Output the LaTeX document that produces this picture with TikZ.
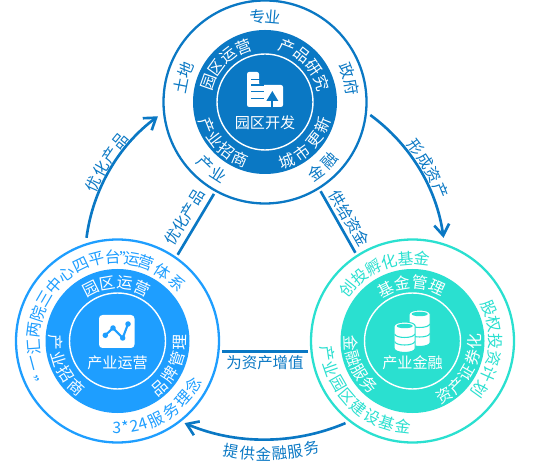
\documentclass[tikz,border=0pt]{standalone}
\usepackage{fontspec}
\setmainfont{Noto Sans CJK SC}
\definecolor{kfblue}{RGB}{10,120,196}
\definecolor{yyblue}{RGB}{30,158,255}
\definecolor{jrteal}{RGB}{42,224,208}
\usetikzlibrary{arrows.meta,positioning,calc}

% one glyph per node, turned to follow a circle round #2
\newcommand{\curvetext}[7]{%
  \foreach \ch [count=\n from 0] in {#7}{%
    \pgfmathsetmacro{\ang}{#4+\n*(#5)}
    \pgfmathsetmacro{\rot}{\ang+((#5)<0?-90:90)}
    \node[#6, rotate=\rot] (#1-\n) at ($(#2)+(\ang:#3)$) {\ch};
  }%
}

\begin{document}
\begin{tikzpicture}[
        outer/.style={circle, minimum size=4.06cm, inner sep=0pt, line width=1.3pt, fill=white},
        disc/.style={circle, minimum size=2.88cm, inner sep=0pt},
        ring/.style={circle, minimum size=1.92cm, inner sep=0pt, draw=white, line width=0.8pt},
        glyph/.style={inner sep=0pt, font=\fontsize{9pt}{10pt}\selectfont},
        title/.style={glyph, text=white},
        heading/.style={inner sep=0pt, text=white, font=\fontsize{8.6pt}{10pt}\selectfont},
        link/.style={kfblue, line width=1.5pt, shorten <=0.05cm, shorten >=0.05cm},
        arr/.style={-{Straight Barb[length=0.22cm,width=0.3cm]}, kfblue, line width=1.5pt, bend left=23, looseness=0.89},
        lab/.style={inner sep=0pt, text=kfblue, font=\fontsize{8.8pt}{10pt}\selectfont}
      ]
        \useasboundingbox (0,0) rectangle (10.72,9.3);

        \coordinate (hub) at (5.30,4.08);

        % Three circles
        \node[outer, draw=kfblue] (kaifa)   at (5.30,7.26) {};
        \node[outer, draw=yyblue] (yunying) at (2.35,2.48) {};
        \node[outer, draw=jrteal] (jinrong) at (8.25,2.48) {};
        \node[disc, fill=kfblue] (kaifadisc)   at (kaifa)   {};
        \node[disc, fill=yyblue] (yunyingdisc) at (yunying) {};
        \node[disc, fill=jrteal] (jinrongdisc) at (jinrong) {};
        \node[ring] (kaifaring)   at (kaifa)   {};
        \node[ring] (yunyingring) at (yunying) {};
        \node[ring] (jinrongring) at (jinrong) {};

        \node[heading] (kaifatxt)   at (5.30,6.84) {园区开发};
        \node[heading] (yunyingtxt) at (2.35,2.05) {产业运营};
        \node[heading] (jinrongtxt) at (8.25,2.05) {产业金融};

        % Straight links
        \draw[link] (yunying.55) -- (kaifa.241);
        \draw[link] (kaifa.-58) -- (jinrong.123);
        \draw[link] (yunying.-6) -- (jinrong.186);

        % Outer arrows
        \coordinate (a1) at ($(hub)+(172.6:3.6)$);
        \coordinate (a2) at ($(hub)+(126.5:3.6)$);
        \coordinate (b1) at ($(hub)+(54.2:3.6)$);
        \coordinate (b2) at ($(hub)+(7.4:3.6)$);
        \coordinate (c1) at ($(hub)+(-63.6:3.62)$);
        \coordinate (c2) at ($(hub)+(-116.4:3.62)$);
        \draw[arr] (a1) to (a2);
        \draw[arr] (b1) to (b2);
        \draw[arr] (c1) to (c2);

        % Link labels
        \node[lab, rotate=58] (youhua) at (3.69,4.96) {优化产品};
        \node[lab, rotate=-60] (gongji) at (6.99,4.93) {供给资金};
        \node[lab] (zengzhi) at (5.30,2.05) {为资产增值};
        \curvetext{youhuab}{hub}{3.76}{156}{-5.2}{lab}{优,化,产,品}
        \curvetext{xingcheng}{hub}{3.78}{37.2}{-5.1}{lab}{形,成,资,产}
        \curvetext{tigong}{hub}{3.86}{260}{4.78}{lab}{提,供,金,融,服,务}

        % Top circle
        \begin{scope}[glyph/.append style={text=kfblue}]
          \curvetext{zhuanye}{kaifa}{1.71}{95}{-10}{glyph}{专,业}
          \curvetext{zhengfu}{kaifa}{1.75}{21}{-11.5}{glyph}{政,府}
          \curvetext{tudi}{kaifa}{1.71}{169}{-11}{glyph}{土,地}
          \curvetext{chanye}{kaifa}{1.71}{226}{11.4}{glyph}{产,业}
          \curvetext{jinr}{kaifa}{1.75}{-54}{11.5}{glyph}{金,融}
        \end{scope}
        \curvetext{yuanqu}{kaifa}{1.19}{160.6}{-16.4}{title}{园,区,运,营}
        \curvetext{yanjiu}{kaifa}{1.19}{68.5}{-16.8}{title}{产,品,研,究}
        \curvetext{zhaoshang}{kaifa}{1.25}{201.8}{15}{title}{产,业,招,商}
        \curvetext{gengxin}{kaifa}{1.25}{-70}{16.2}{title}{城,市,更,新}

        % Left circle
        \begin{scope}[glyph/.append style={text=yyblue}]
          \curvetext{tixia}{yunying}{1.7}{208}{-13}{glyph}{“,一}
          \curvetext{tixib}{yunying}{1.68}{184}{-11.35}{glyph}{汇,两,院,三,中,心,四,平,台}
          \curvetext{tixic}{yunying}{1.66}{83.5}{-3.5}{glyph}{”,运}
          \curvetext{tixid}{yunying}{1.66}{70}{-13}{glyph}{营,体,系}
          \curvetext{fuwua}{yunying}{1.73}{-90.5}{5.9}{glyph}{3,*,2,4}
          \curvetext{fuwub}{yunying}{1.75}{-63.6}{11}{glyph}{服,务,理,念}
        \end{scope}
        \curvetext{yyyuanqu}{yunying}{1.17}{117}{-17.3}{title}{园,区,运,营}
        \curvetext{yyzhaoshang}{yunying}{1.23}{181}{15.8}{title}{产,业,招,商}
        \curvetext{pinpai}{yunying}{1.25}{-48.2}{15.5}{title}{品,牌,管,理}

        % Right circle
        \begin{scope}[glyph/.append style={text=jrteal}]
          \curvetext{chuangtou}{jinrong}{1.66}{141.2}{-11.6}{glyph}{创,投,孵,化,基,金}
          \curvetext{guquan}{jinrong}{1.66}{23.3}{-11.8}{glyph}{股,权,投,资,计,划}
          \curvetext{jianshe}{jinrong}{1.72}{188.5}{10.7}{glyph}{产,业,园,区,建,设,基,金}
        \end{scope}
        \curvetext{jijin}{jinrong}{1.17}{117}{-17.3}{title}{基,金,管,理}
        \curvetext{jrfuwu}{jinrong}{1.23}{182}{14.5}{title}{金,融,服,务}
        \curvetext{zhengquan}{jinrong}{1.25}{-59.8}{14.8}{title}{资,产,证,券,化}

        % Building icon
        \begin{scope}[shift={(kaifa)}]
          \fill[white, rounded corners=1.2pt] (-0.36,-0.10) -- (-0.36,0.60) -- (-0.12,0.60) -- (-0.12,0.34) -- (0.36,0.34) -- (0.36,-0.10) -- cycle;
          \foreach \ly in {0.454,0.34,0.206,0.074}
            \draw[kfblue, line width=0.9pt] (-0.28,\ly) -- (-0.03,\ly);
          \fill[kfblue] (0.146,0.22) -- (0.026,0.02) -- (0.266,0.02) -- cycle;
          \draw[kfblue, line width=1pt] (0.146,0.03) -- (0.146,-0.10);
        \end{scope}

        % Chart icon
        \begin{scope}[shift={(yunying)}]
          \fill[white, rounded corners=2pt] (-0.37,-0.14) rectangle (0.34,0.52);
          \draw[yyblue, line width=1.2pt] (-0.244,0.114) -- (-0.09,0.26) -- (0.104,0.06) -- (0.21,0.34);
          \foreach \dx/\dy in {-0.244/0.114,-0.09/0.26,0.104/0.06,0.21/0.34}
            \fill[yyblue] (\dx,\dy) circle (0.055);
        \end{scope}

        % Database icon
        \begin{scope}[shift={(jinrong)}]
          \foreach \cx/\ct/\cb in {0.144/0.54/-0.03,-0.156/0.30/-0.15}{
            \fill[white, draw=jrteal, line width=0.6pt] (\cx-0.21,\ct) -- (\cx-0.21,\cb) arc[start angle=180, end angle=360, x radius=0.21, y radius=0.08]
              -- (\cx+0.21,\ct) arc[start angle=0, end angle=180, x radius=0.21, y radius=0.08] -- cycle;
            \fill[jrteal] (\cx,\ct) ellipse[x radius=0.16, y radius=0.045];
            \draw[jrteal, line width=0.6pt] (\cx-0.2,\ct*0.667+\cb*0.333-0.01) arc[start angle=180, end angle=360, x radius=0.2, y radius=0.07];
            \draw[jrteal, line width=0.6pt] (\cx-0.2,\ct*0.333+\cb*0.667-0.01) arc[start angle=180, end angle=360, x radius=0.2, y radius=0.07];
          }
        \end{scope}
      \end{tikzpicture}
\end{document}
